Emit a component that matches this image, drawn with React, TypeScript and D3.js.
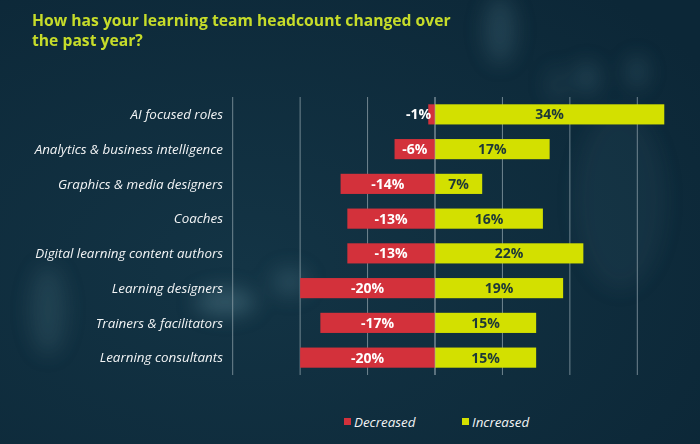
import React from "react"
import * as d3 from "d3"

const categories = [
    "AI focused roles",
    "Analytics & business intelligence",
    "Graphics & media designers",
    "Coaches",
    "Digital learning content authors",
    "Learning designers",
    "Trainers & facilitators",
    "Learning consultants",
]
const decreased = [-1, -6, -14, -13, -13, -20, -17, -20]
const increased = [34, 17, 7, 16, 22, 19, 15, 15]
const gridTicks = [-30, -20, -10, 0, 10, 20, 30]
const title = ["How has your learning team headcount changed over", "the past year?"]

// soft shapes of the blurred photo behind the chart
const blobs = [
    { cx: 500, cy: 30, rx: 16, ry: 34, o: 0.2 },
    { cx: 587, cy: 78, rx: 12, ry: 16, o: 0.2 },
    { cx: 637, cy: 72, rx: 10, ry: 16, o: 0.2 },
    { cx: 557, cy: 85, rx: 10, ry: 18, o: 0.12 },
    { cx: 48, cy: 310, rx: 18, ry: 45, o: 0.16 },
    { cx: 225, cy: 302, rx: 30, ry: 13, o: 0.35 },
    { cx: 290, cy: 282, rx: 18, ry: 14, o: 0.22 },
    { cx: 620, cy: 200, rx: 45, ry: 90, o: 0.08 },
]

const RED = "#d3313b"
const YELLOW = "#d3e000"

export default function App() {
    const width = 700
    const height = 444

    const x = d3.scaleLinear().domain([-30, 30]).range([232.7, 637.3])
    const y = d3.scaleBand<string>().domain(categories).range([97, 375]).paddingInner(0.42).paddingOuter(0.21)
    const bw = y.bandwidth()

    const labelFont = "'Open Sans', sans-serif"

    return (
        <svg width={width} height={height} style={{ position: "absolute", left: 0, top: 0, display: "block" }}>
            <defs>
                <filter id="blur" x="-50%" y="-50%" width="200%" height="200%">
                    <feGaussianBlur stdDeviation="10" />
                </filter>
                <radialGradient id="bg" cx="0.35" cy="0.6" r="0.8">
                    <stop offset="0" stopColor="#133445" />
                    <stop offset="1" stopColor="#0c2737" />
                </radialGradient>
            </defs>
            <rect width={width} height={height} fill="url(#bg)" />
            <g filter="url(#blur)">
                {blobs.map((b, i) => (
                    <ellipse key={i} cx={b.cx} cy={b.cy} rx={b.rx} ry={b.ry} fill="#6f9aa8" opacity={b.o} />
                ))}
            </g>

            {title.map((t, i) => (
                <text key={i} x={32} y={26 + i * 20} fill="#c6dc2a" fontFamily={labelFont}
                      fontWeight={700} fontSize={15.7}>{t}</text>
            ))}

            {gridTicks.map(t => (
                <line key={t} x1={x(t)} x2={x(t)} y1={97} y2={375} stroke="#9aabb3" strokeWidth={1} opacity={0.7} />
            ))}

            {categories.map((c, i) => {
                const yy = y(c) as number
                const cy = yy + bw / 2
                const x0 = x(decreased[i])
                const x1 = x(increased[i])
                const zero = x(0)
                const decW = zero - x0
                const decLabel = `${decreased[i]}%`
                const narrow = decW < 30
                return (
                    <g key={c}>
                        <text x={223} y={cy} dy="0.35em" textAnchor="end" fill="#f2f4f5"
                              fontFamily={labelFont} fontStyle="italic" fontWeight={500} fontSize={13.4}>{c}</text>
                        <rect x={x0} y={yy} width={decW} height={bw} fill={RED} />
                        <rect x={zero} y={yy} width={x1 - zero} height={bw} fill={YELLOW} />
                        <text x={narrow ? zero - 4 : (x0 + zero) / 2} y={cy} dy="0.36em"
                              textAnchor={narrow ? "end" : "middle"} fill="#ffffff"
                              fontFamily={labelFont} fontWeight={700} fontSize={14}>{decLabel}</text>
                        <text x={(zero + x1) / 2} y={cy} dy="0.36em" textAnchor="middle" fill="#1d3838"
                              fontFamily={labelFont} fontWeight={700} fontSize={14}>{`${increased[i]}%`}</text>
                    </g>
                )
            })}
            <line x1={x(0)} x2={x(0)} y1={97} y2={375} stroke="#9aabb3" strokeWidth={1} opacity={0.6} />

            <g fontFamily={labelFont} fontStyle="italic" fontWeight={500} fontSize={13.4} fill="#f2f4f5">
                <rect x={344} y={418} width={7} height={7} fill={RED} />
                <text x={354} y={426.5}>Decreased</text>
                <rect x={462} y={418} width={7} height={7} fill={YELLOW} />
                <text x={472} y={426.5}>Increased</text>
            </g>
        </svg>
    )
}
